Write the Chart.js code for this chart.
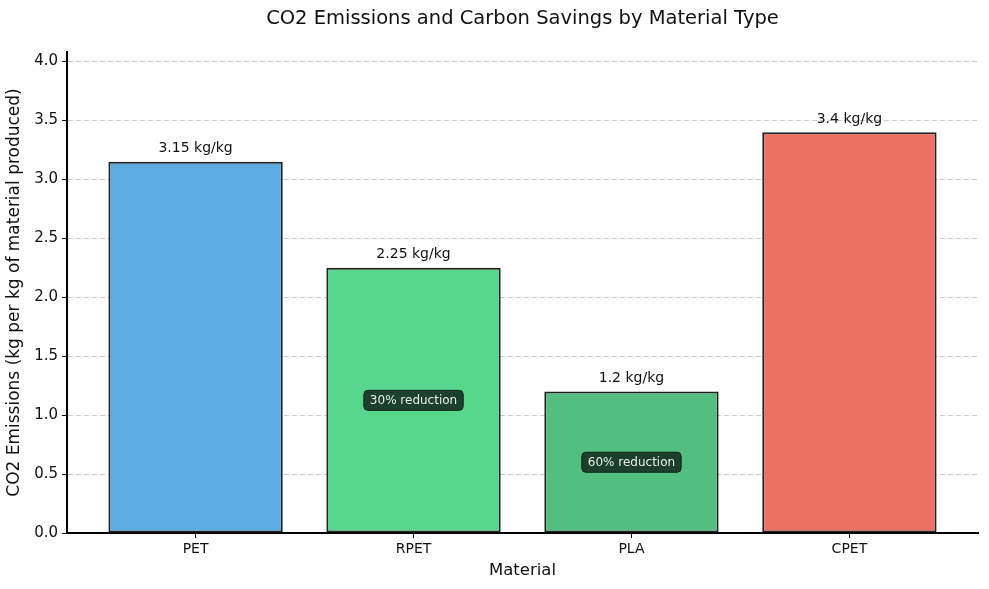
<!DOCTYPE html>
<html>
<head>
<meta charset="utf-8">
<script src="https://cdn.jsdelivr.net/npm/chart.js@4/dist/chart.umd.min.js"></script>
<style>
  html, body { margin: 0; padding: 0; background: #fff; }
  #wrap { width: 989px; height: 589px; }
</style>
</head>
<body>
<div id="wrap"><canvas id="chart" width="989" height="589"></canvas></div>
<script>
'use strict';

const materials = ['PET', 'RPET', 'PLA', 'CPET'];
const emissions = [3.15, 2.25, 1.2, 3.4];
const barColors = ['#5DADE2', '#58D68D', '#52BE80', '#EC7063'];
const reductions = [null, '30% reduction', '60% reduction', null];
const yTicks = [0, 0.5, 1.0, 1.5, 2.0, 2.5, 3.0, 3.5, 4.0];

const FONT = 'DejaVu Sans';

// labels above the bars and the reduction badges in the middle
const annotatePlugin = {
  id: 'annotate',
  afterDatasetsDraw(chart) {
    const ctx = chart.ctx;
    const xs = chart.scales.x, ys = chart.scales.y;
    ctx.save();
    ctx.textAlign = 'center';
    ctx.textBaseline = 'middle';
    emissions.forEach((v, i) => {
      const px = xs.getPixelForValue(i);
      ctx.font = `14px "${FONT}"`;
      ctx.fillStyle = '#111';
      ctx.fillText(`${v} kg/kg`, px, ys.getPixelForValue(v) - 13);

      if (reductions[i]) {
        const py = ys.getPixelForValue(v / 2);
        ctx.font = `12px "${FONT}"`;
        const w = ctx.measureText(reductions[i]).width + 12;
        const h = 20;
        ctx.beginPath();
        ctx.roundRect(px - w / 2, py - h / 2, w, h, 4);
        ctx.fillStyle = 'rgba(24, 56, 38, 0.95)';
        ctx.fill();
        ctx.lineWidth = 1;
        ctx.strokeStyle = '#0f2418';
        ctx.stroke();
        ctx.fillStyle = '#e6efe8';
        ctx.fillText(reductions[i], px, py + 0.5);
      }
    });

    // title centred over the plot area
    ctx.font = `19.5px "${FONT}"`;
    ctx.fillStyle = '#111';
    ctx.fillText('CO2 Emissions and Carbon Savings by Material Type',
      (chart.chartArea.left + chart.chartArea.right) / 2, 19);
    ctx.restore();
  }
};

new Chart(document.getElementById('chart'), {
  type: 'bar',
  data: {
    datasets: [{
      data: emissions.map((v, i) => ({ x: i, y: v })),
      backgroundColor: barColors,
      borderColor: '#222',
      borderWidth: 2,
      borderSkipped: false,
      barPercentage: 0.8,
      categoryPercentage: 1.0
    }]
  },
  options: {
    responsive: false,
    animation: false,
    layout: { padding: { top: 52, right: 11, left: 0, bottom: 0 } },
    plugins: {
      legend: { display: false },
      tooltip: { enabled: false },
      title: { display: false }
    },
    scales: {
      x: {
        type: 'linear',
        offset: false,
        min: -0.59,
        max: 3.59,
        afterBuildTicks: (s) => { s.ticks = materials.map((m, i) => ({ value: i })); },
        afterFit: (s) => { s.height = 56; },
        ticks: {
          autoSkip: false,
          callback: (v) => materials[v],
          color: '#111',
          font: { family: FONT, size: 14 },
          padding: 3
        },
        grid: { display: true, offset: false, drawOnChartArea: false, tickLength: 5, tickColor: '#111', tickWidth: 1 },
        border: { display: true, color: '#000', width: 2 },
        title: {
          display: true,
          text: 'Material',
          color: '#111',
          font: { family: FONT, size: 16.5 },
          padding: { top: 0, bottom: 8 }
        }
      },
      y: {
        min: 0,
        max: 4.08,
        afterBuildTicks: (s) => { s.ticks = yTicks.map(v => ({ value: v })); },
        afterFit: (s) => { s.width = 67; },
        ticks: {
          callback: (v) => v.toFixed(1),
          color: '#111',
          font: { family: FONT, size: 15 },
          padding: 4
        },
        grid: {
          color: (c) => c.tick && c.tick.value === 0 ? 'rgba(0,0,0,0)' : '#c8c8c8',
          lineWidth: 1,
          tickLength: 5,
          tickColor: '#111',
          tickWidth: 1
        },
        border: { display: true, color: '#000', width: 2, dash: [5, 3] },
        title: {
          display: true,
          text: 'CO2 Emissions (kg per kg of material produced)',
          color: '#111',
          font: { family: FONT, size: 17 },
          padding: { top: 4, bottom: 0 }
        }
      }
    }
  },
  plugins: [annotatePlugin]
});
</script>
</body>
</html>
